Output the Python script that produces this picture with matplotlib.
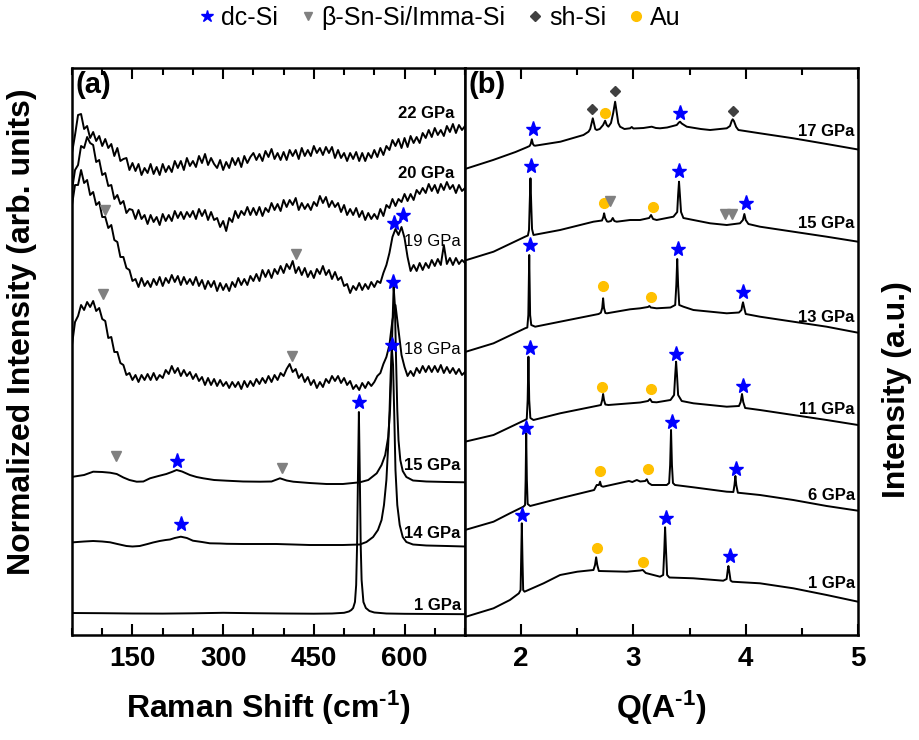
import numpy as np
import matplotlib.pyplot as plt
from matplotlib.lines import Line2D
from matplotlib.ticker import MultipleLocator

plt.rcParams['font.family'] = ['Liberation Sans', 'DejaVu Sans']
plt.rcParams['mathtext.fontset'] = 'custom'
plt.rcParams['mathtext.rm'] = 'Liberation Sans:bold'
plt.rcParams['mathtext.it'] = 'Liberation Sans:bold'
plt.rcParams['mathtext.bf'] = 'Liberation Sans:bold'

# ---------------- (a) Raman, stacked spectra ----------------
# sampling positions of the noisy spectra (cm-1)
raman_grid = np.arange(50, 701, 5)

raman_22 = [4.82, 5.00, 5.20, 5.21, 5.06, 5.09, 4.97, 5.03, 4.94, 4.99,
            4.89, 4.96, 4.87, 4.91, 4.79, 4.87, 4.74, 4.76, 4.77, 4.65,
            4.72, 4.64, 4.71, 4.60, 4.67, 4.62, 4.71, 4.61, 4.68, 4.60,
            4.71, 4.63, 4.69, 4.63, 4.74, 4.67, 4.74, 4.65, 4.77, 4.69,
            4.74, 4.68, 4.79, 4.72, 4.81, 4.70, 4.77, 4.71, 4.67, 4.75,
            4.65, 4.73, 4.67, 4.77, 4.70, 4.77, 4.68, 4.79, 4.72, 4.78,
            4.82, 4.75, 4.81, 4.74, 4.84, 4.78, 4.86, 4.76, 4.82, 4.75,
            4.83, 4.75, 4.85, 4.79, 4.85, 4.76, 4.87, 4.79, 4.85, 4.79,
            4.89, 4.82, 4.87, 4.80, 4.88, 4.82, 4.88, 4.77, 4.85, 4.77,
            4.82, 4.74, 4.82, 4.76, 4.83, 4.74, 4.82, 4.74, 4.82, 4.77,
            4.85, 4.78, 4.87, 4.80, 4.89, 4.85, 4.95, 4.89, 4.96, 4.87,
            4.97, 4.88, 4.99, 4.92, 4.98, 4.92, 5.02, 4.97, 5.05, 4.98,
            5.07, 5.00, 5.05, 4.99, 5.09, 5.03, 5.11, 5.02, 5.10, 5.05,
            5.09]

raman_20 = [4.45, 4.65, 4.70, 4.89, 4.87, 4.98, 4.92, 4.90, 4.73, 4.75,
            4.60, 4.62, 4.49, 4.50, 4.36, 4.40, 4.31, 4.34, 4.22, 4.26,
            4.25, 4.16, 4.25, 4.16, 4.20, 4.11, 4.20, 4.13, 4.18, 4.10,
            4.21, 4.14, 4.20, 4.14, 4.24, 4.17, 4.23, 4.16, 4.23, 4.18,
            4.24, 4.16, 4.26, 4.19, 4.25, 4.15, 4.23, 4.15, 4.17, 4.08,
            4.14, 4.04, 4.17, 4.13, 4.24, 4.17, 4.24, 4.20, 4.28, 4.20,
            4.27, 4.20, 4.28, 4.19, 4.27, 4.23, 4.32, 4.25, 4.31, 4.24,
            4.35, 4.28, 4.35, 4.30, 4.37, 4.25, 4.32, 4.26, 4.31, 4.25,
            4.33, 4.29, 4.39, 4.32, 4.38, 4.28, 4.34, 4.28, 4.32, 4.23,
            4.30, 4.20, 4.26, 4.20, 4.27, 4.18, 4.24, 4.15, 4.22, 4.16,
            4.21, 4.16, 4.26, 4.19, 4.30, 4.27, 4.36, 4.29, 4.36, 4.33,
            4.41, 4.34, 4.41, 4.35, 4.45, 4.41, 4.47, 4.42, 4.51, 4.44,
            4.50, 4.42, 4.51, 4.45, 4.53, 4.46, 4.50, 4.42, 4.50, 4.44,
            4.47]

raman_19 = [4.30, 4.50, 4.50, 4.65, 4.52, 4.55, 4.40, 4.43, 4.30, 4.33,
            4.18, 4.18, 4.07, 4.10, 3.95, 3.93, 3.78, 3.78, 3.67, 3.65,
            3.54, 3.56, 3.48, 3.57, 3.49, 3.54, 3.48, 3.56, 3.50, 3.58,
            3.49, 3.57, 3.52, 3.60, 3.53, 3.59, 3.50, 3.58, 3.51, 3.56,
            3.50, 3.58, 3.49, 3.55, 3.46, 3.54, 3.48, 3.54, 3.44, 3.52,
            3.45, 3.51, 3.44, 3.53, 3.48, 3.57, 3.50, 3.56, 3.50, 3.59,
            3.54, 3.61, 3.54, 3.65, 3.58, 3.65, 3.57, 3.66, 3.61, 3.69,
            3.62, 3.71, 3.66, 3.74, 3.62, 3.68, 3.60, 3.67, 3.58, 3.64,
            3.57, 3.66, 3.61, 3.69, 3.60, 3.65, 3.56, 3.63, 3.55, 3.58,
            3.49, 3.51, 3.42, 3.49, 3.45, 3.52, 3.45, 3.51, 3.46, 3.53,
            3.48, 3.54, 3.52, 3.62, 3.70, 3.82, 3.98, 4.06, 4.00, 4.08,
            3.97, 3.78, 3.64, 3.70, 3.64, 3.72, 3.65, 3.72, 3.67, 3.75,
            3.69, 3.76, 3.70, 3.90, 3.71, 3.77, 3.70, 3.77, 3.71, 3.75,
            3.72]

raman_18 = [2.90, 3.13, 3.19, 3.30, 3.25, 3.33, 3.28, 3.34, 3.24, 3.27,
            3.16, 3.14, 2.97, 2.98, 2.83, 2.83, 2.72, 2.70, 2.60, 2.62,
            2.55, 2.60, 2.53, 2.60, 2.55, 2.61, 2.55, 2.62, 2.55, 2.60,
            2.57, 2.65, 2.61, 2.69, 2.62, 2.67, 2.59, 2.65, 2.59, 2.63,
            2.56, 2.61, 2.54, 2.58, 2.50, 2.57, 2.50, 2.56, 2.49, 2.55,
            2.49, 2.53, 2.47, 2.53, 2.48, 2.53, 2.46, 2.54, 2.48, 2.54,
            2.49, 2.56, 2.51, 2.57, 2.52, 2.59, 2.53, 2.60, 2.55, 2.62,
            2.59, 2.66, 2.71, 2.63, 2.66, 2.57, 2.61, 2.53, 2.58, 2.50,
            2.55, 2.47, 2.53, 2.48, 2.56, 2.52, 2.59, 2.54, 2.59, 2.52,
            2.57, 2.50, 2.54, 2.46, 2.50, 2.45, 2.52, 2.47, 2.53, 2.49,
            2.53, 2.59, 2.62, 2.71, 2.78, 2.90, 3.15, 3.30, 3.05, 2.80,
            2.68, 2.59, 2.64, 2.59, 2.67, 2.62, 2.69, 2.63, 2.69, 2.63,
            2.69, 2.63, 2.70, 2.62, 2.68, 2.62, 2.67, 2.61, 2.66, 2.60,
            2.63]

raman_15_x = [52, 70, 85, 100, 113, 124, 135, 145, 157, 168, 179, 193, 206, 215, 223,
              232, 245, 256, 267, 285, 306, 333, 361, 380, 394, 405, 416, 443, 471,
              498, 526, 540, 554, 562, 568, 573, 576, 578, 580, 582, 584, 586, 588,
              590, 593, 597, 603, 614, 636, 670, 700]
raman_15_y = [1.583, 1.60, 1.633, 1.63, 1.623, 1.61, 1.575, 1.55, 1.533, 1.535, 1.567,
              1.59, 1.61, 1.63, 1.65, 1.635, 1.60, 1.58, 1.567, 1.55, 1.543, 1.535,
              1.533, 1.535, 1.567, 1.545, 1.533, 1.52, 1.51, 1.51, 1.527, 1.55, 1.617,
              1.70, 1.80, 1.98, 2.25, 2.6, 3.1, 3.48, 3.3, 2.75, 2.25, 1.95, 1.75,
              1.64, 1.58, 1.545, 1.535, 1.53, 1.527]

raman_14_x = [52, 70, 85, 100, 113, 125, 140, 150, 162, 175, 184, 195, 205, 212, 220,
              230, 240, 250, 265, 278, 295, 306, 333, 361, 388, 416, 443, 471, 498,
              526, 537, 548, 556, 562, 566, 570, 573, 575, 577, 579, 581, 583, 585,
              588, 592, 597, 603, 614, 636, 670, 700]
raman_14_y = [0.927, 0.935, 0.94, 0.935, 0.927, 0.91, 0.89, 0.885, 0.89, 0.91, 0.925,
              0.94, 0.95, 0.955, 0.97, 0.983, 0.97, 0.943, 0.93, 0.917, 0.915, 0.912,
              0.91, 0.91, 0.91, 0.905, 0.90, 0.90, 0.90, 0.905, 0.93, 0.98, 1.05,
              1.15, 1.3, 1.55, 1.9, 2.2, 2.6, 2.87, 2.7, 2.2, 1.65, 1.3, 1.1, 0.98,
              0.93, 0.905, 0.895, 0.89, 0.885]

raman_1_x = [50, 100, 150, 200, 250, 300, 350, 400, 450, 480, 500, 508, 512, 515, 518,
             520, 521.5, 523, 524.5, 526, 527.5, 529, 532, 536, 542, 550, 570, 600,
             650, 700]
raman_1_y = [0.22, 0.218, 0.215, 0.214, 0.217, 0.222, 0.218, 0.215, 0.213, 0.215,
             0.222, 0.235, 0.25, 0.27, 0.33, 0.5, 0.9, 1.6, 2.23, 1.6, 0.9, 0.55,
             0.33, 0.27, 0.24, 0.225, 0.215, 0.212, 0.21, 0.208]

raman_star_x = [580, 581, 583, 598, 223, 230, 525]
raman_star_y = [2.90, 3.53, 4.12, 4.20, 1.74, 1.11, 2.33]
raman_tri_x = [105, 421, 101, 414, 123, 398]
raman_tri_y = [4.25, 3.81, 3.41, 2.79, 1.79, 1.67]

raman_labels = ['22 GPa', '20 GPa', '19 GPa', '18 GPa', '15 GPa', '14 GPa', '1 GPa']
raman_label_x = [683, 683, 693, 693, 693, 693, 693]
raman_label_y = [5.22, 4.62, 3.93, 2.85, 1.70, 1.02, 0.30]
raman_label_weight = ['bold', 'bold', 'normal', 'normal', 'bold', 'bold', 'bold']

# ---------------- (b) XRD, stacked patterns ----------------
xrd_17_q = [1.50, 1.75, 1.95, 2.05, 2.075, 2.085, 2.095, 2.105, 2.115, 2.125, 2.35,
            2.555, 2.60, 2.615, 2.628, 2.638, 2.648, 2.66, 2.673, 2.70, 2.73, 2.748,
            2.762, 2.777, 2.80, 2.82, 2.837, 2.852, 2.865, 2.881, 2.92, 2.97, 2.985,
            3.0, 3.089, 3.163, 3.20, 3.237, 3.30, 3.386, 3.405, 3.415, 3.43, 3.475,
            3.60, 3.683, 3.831, 3.86, 3.875, 3.884, 3.895, 3.915, 3.935, 4.127,
            4.424, 4.721, 5.0]
xrd_17_y = [4.66, 4.75, 4.83, 4.877, 4.89, 4.91, 4.957, 4.91, 4.895, 4.893, 4.933,
            5.00, 5.033, 5.06, 5.12, 5.167, 5.12, 5.06, 5.05, 5.06, 5.10, 5.143,
            5.10, 5.083, 5.12, 5.22, 5.333, 5.22, 5.12, 5.083, 5.06, 5.067, 5.08,
            5.065, 5.07, 5.083, 5.07, 5.067, 5.075, 5.10, 5.125, 5.133, 5.115, 5.083,
            5.06, 5.05, 5.067, 5.09, 5.14, 5.157, 5.14, 5.08, 5.05, 5.017,
            4.967, 4.91, 4.855]

xrd_15_q = [1.50, 1.754, 2.035, 2.06, 2.07, 2.076, 2.083, 2.09, 2.097, 2.11, 2.347,
            2.644, 2.72, 2.732, 2.739, 2.748, 2.765, 2.777, 2.80, 2.816, 2.83, 2.851,
            2.97, 3.059, 3.14, 3.157, 3.175, 3.207, 3.356, 3.39, 3.398, 3.406, 3.414,
            3.424, 3.445, 3.534, 3.683, 3.831, 3.949, 3.975, 3.988, 4.00, 4.024,
            4.127, 4.424, 4.721, 5.0]
xrd_15_y = [3.745, 3.833, 3.983, 3.995, 4.05, 4.30, 4.567, 4.30, 4.06, 4.00, 4.05,
            4.133, 4.145, 4.18, 4.217, 4.17, 4.135, 4.133, 4.14, 4.17, 4.14, 4.133,
            4.15, 4.15, 4.17, 4.20, 4.16, 4.15, 4.183, 4.23, 4.40, 4.533, 4.40,
            4.23, 4.17, 4.15, 4.117, 4.10, 4.117, 4.15, 4.21, 4.15, 4.11,
            4.083, 4.033, 3.983, 3.933]

xrd_13_q = [1.50, 1.754, 2.035, 2.055, 2.064, 2.072, 2.08, 2.09, 2.125, 2.347, 2.69,
            2.71, 2.722, 2.73, 2.738, 2.75, 2.764, 2.97, 3.06, 3.13, 3.142, 3.155,
            3.207, 3.33, 3.372, 3.382, 3.39, 3.398, 3.408, 3.445, 3.534, 3.831, 3.94,
            3.962, 3.970, 3.976, 3.985, 4.0, 4.127, 4.424, 4.721, 5.0]
xrd_13_y = [2.83, 2.917, 3.067, 3.075, 3.20, 3.80, 3.20, 3.10, 3.083, 3.133, 3.21,
            3.223, 3.27, 3.367, 3.27, 3.22, 3.217, 3.257, 3.267, 3.28, 3.29, 3.275,
            3.267, 3.275, 3.30, 3.50, 3.76, 3.50, 3.30, 3.283, 3.25, 3.217, 3.225,
            3.25, 3.30, 3.327, 3.28, 3.21, 3.183, 3.133, 3.083, 3.023]

xrd_11_q = [1.50, 1.754, 2.035, 2.05, 2.058, 2.065, 2.072, 2.082, 2.11, 2.347, 2.69,
            2.71, 2.722, 2.73, 2.738, 2.75, 2.777, 2.97, 3.06, 3.13, 3.148, 3.165,
            3.207, 3.33, 3.362, 3.372, 3.38, 3.388, 3.398, 3.43, 3.534, 3.831, 3.94,
            3.955, 3.967, 3.978, 3.995, 4.127, 4.424, 4.721, 5.0]
xrd_11_y = [1.933, 2.0, 2.15, 2.16, 2.35, 2.783, 2.35, 2.17, 2.15, 2.217, 2.295,
            2.30, 2.35, 2.41, 2.35, 2.305, 2.30, 2.317, 2.325, 2.34, 2.36, 2.33,
            2.327, 2.35, 2.40, 2.60, 2.733, 2.60, 2.40, 2.34, 2.317, 2.283, 2.29,
            2.33, 2.41, 2.33, 2.27, 2.25, 2.20, 2.15, 2.10]

xrd_6_q = [1.50, 1.754, 1.90, 2.02, 2.035, 2.04, 2.045, 2.051, 2.058, 2.08, 2.347,
           2.65, 2.673, 2.693, 2.703, 2.713, 2.73, 2.90, 2.96, 2.99, 3.03, 3.06,
           3.105, 3.119, 3.135, 3.163, 3.297, 3.318, 3.327, 3.335, 3.343, 3.352,
           3.37, 3.534, 3.831, 3.89, 3.90, 3.908, 3.916, 3.93, 4.127, 4.424, 4.721,
           5.0]
xrd_6_y = [1.05, 1.133, 1.217, 1.283, 1.30, 1.55, 2.017, 1.55, 1.31, 1.29, 1.367,
           1.45, 1.50, 1.50, 1.533, 1.49, 1.483, 1.525, 1.54, 1.53, 1.55, 1.535,
           1.54, 1.557, 1.52, 1.50, 1.50, 1.52, 1.70, 2.05, 1.70, 1.52,
           1.50, 1.477, 1.433, 1.43, 1.50, 1.59, 1.50, 1.423, 1.40, 1.35, 1.29,
           1.243]

xrd_1_q = [1.50, 1.754, 1.90, 1.98, 1.995, 2.0, 2.006, 2.012, 2.018, 2.03, 2.20,
           2.347, 2.50, 2.644, 2.658, 2.668, 2.678, 2.692, 2.94, 3.06, 3.083, 3.11,
           3.237, 3.265, 3.275, 3.282, 3.29, 3.30, 3.32, 3.534, 3.80, 3.83, 3.84,
           3.846, 3.853, 3.865, 3.88, 4.127, 4.424, 4.721, 5.0]
xrd_1_y = [0.18, 0.267, 0.35, 0.417, 0.45, 0.75, 1.117, 0.75, 0.45, 0.433, 0.517,
           0.60, 0.633, 0.65, 0.70, 0.777, 0.70, 0.64, 0.633, 0.645, 0.65, 0.62,
           0.583, 0.60, 0.85, 1.077, 0.85, 0.60, 0.575, 0.567, 0.543, 0.56, 0.65,
           0.69, 0.64, 0.545, 0.533, 0.517, 0.467, 0.40, 0.333]

xrd_star_q = [2.104, 3.415, 2.088, 3.406, 4.0, 2.078, 3.393, 3.979, 2.075, 3.38, 3.973,
              2.045, 3.341, 3.91, 2.012, 3.291, 3.861]
xrd_star_y = [5.057, 5.217, 4.69, 4.643, 4.323, 3.90, 3.863, 3.433, 2.867, 2.81, 2.49,
              2.067, 2.127, 1.657, 1.20, 1.173, 0.79]
xrd_au_q = [2.748, 2.739, 3.172, 2.733, 3.154, 2.724, 3.154, 2.703, 3.128, 2.673, 3.083]
xrd_au_y = [5.217, 4.323, 4.283, 3.49, 3.383, 2.483, 2.457, 1.643, 1.657, 0.867, 0.733]
xrd_sh_q = [2.635, 2.837, 3.884]
xrd_sh_y = [5.257, 5.443, 5.243]
xrd_tri_q = [2.792, 3.816, 3.875]
xrd_tri_y = [4.343, 4.21, 4.21]

xrd_labels = ['17 GPa', '15 GPa', '13 GPa', '11 GPa', '6 GPa', '1 GPa']
xrd_label_y = [5.03, 4.12, 3.18, 2.25, 1.40, 0.52]

star_col = '#0000ff'
tri_col = '#808080'
sh_col = '#404040'
au_col = '#ffc000'

fig = plt.figure(figsize=(9.19, 7.4), dpi=100)
ax_a = fig.add_axes([72/919, 105/740, 393/919, 567/740])
ax_b = fig.add_axes([465/919, 105/740, 393/919, 567/740])

lw = 1.4
ax_a.plot(raman_1_x, raman_1_y, color='black', lw=lw)
ax_a.plot(raman_14_x, raman_14_y, color='black', lw=lw)
ax_a.plot(raman_15_x, raman_15_y, color='black', lw=lw)
for spec in [raman_18, raman_19, raman_20, raman_22]:
    ax_a.plot(raman_grid, spec, color='black', lw=lw)

ax_a.plot(raman_star_x, raman_star_y, ls='none', marker='*', ms=11, color=star_col, zorder=5)
ax_a.plot(raman_tri_x, raman_tri_y, ls='none', marker='v', ms=7, color=tri_col, zorder=5)

for lab, lx, ly, wt in zip(raman_labels, raman_label_x, raman_label_y, raman_label_weight):
    ax_a.text(lx, ly, lab, ha='right', va='center', fontsize=12, fontweight=wt)

for q, y in [(xrd_17_q, xrd_17_y), (xrd_15_q, xrd_15_y), (xrd_13_q, xrd_13_y),
             (xrd_11_q, xrd_11_y), (xrd_6_q, xrd_6_y), (xrd_1_q, xrd_1_y)]:
    ax_b.plot(q, y, color='black', lw=lw)

ax_b.plot(xrd_star_q, xrd_star_y, ls='none', marker='*', ms=11, color=star_col, zorder=5)
ax_b.plot(xrd_au_q, xrd_au_y, ls='none', marker='o', ms=7, color=au_col, zorder=5)
ax_b.plot(xrd_sh_q, xrd_sh_y, ls='none', marker='D', ms=5, color=sh_col, zorder=5)
ax_b.plot(xrd_tri_q, xrd_tri_y, ls='none', marker='v', ms=7, color=tri_col, zorder=5)

for lab, ly in zip(xrd_labels, xrd_label_y):
    ax_b.text(4.97, ly, lab, ha='right', va='center', fontsize=12, fontweight='bold')

# axes styling
ax_a.set_xlim(50, 700)
ax_a.set_xticks([150, 300, 450, 600])
ax_a.xaxis.set_minor_locator(MultipleLocator(50))
ax_b.set_xlim(1.5, 5)
ax_b.set_xticks([2, 3, 4, 5])
ax_b.xaxis.set_minor_locator(MultipleLocator(0.5))

for ax in [ax_a, ax_b]:
    ax.set_ylim(0, 5.67)
    ax.set_yticks([])
    for sp in ax.spines.values():
        sp.set_linewidth(1.8)
    ax.tick_params(axis='x', which='both', direction='in', top=True, width=1.5,
                   labelsize=20, pad=8)
    ax.tick_params(axis='x', which='major', length=8)
    ax.tick_params(axis='x', which='minor', length=5)
    for t in ax.get_xticklabels():
        t.set_fontweight('bold')

ax_a.set_xlabel(r'Raman Shift (cm$^{\text{-1}}$)', fontsize=23, fontweight='bold', labelpad=12)
ax_b.set_xlabel(r'Q(A$^{\text{-1}}$)', fontsize=23, fontweight='bold', labelpad=12)

ax_a.text(0.008, 0.995, '(a)', transform=ax_a.transAxes, ha='left', va='top',
          fontsize=21, fontweight='bold')
ax_b.text(0.008, 0.995, '(b)', transform=ax_b.transAxes, ha='left', va='top',
          fontsize=21, fontweight='bold')

fig.text(22/919, 1 - 332/740, 'Normalized Intensity (arb. units)', rotation=90,
         ha='center', va='center', fontsize=23, fontweight='bold')
fig.text(897/919, 1 - 390/740, 'Intensity (a.u.)', rotation=90,
         ha='center', va='center', fontsize=23, fontweight='bold')

handles = [Line2D([], [], ls='none', marker='*', ms=9, color=star_col),
           Line2D([], [], ls='none', marker='v', ms=6, color=tri_col),
           Line2D([], [], ls='none', marker='D', ms=5, color=sh_col),
           Line2D([], [], ls='none', marker='o', ms=7, color=au_col)]
fig.legend(handles, ['dc-Si', 'β-Sn-Si/Imma-Si', 'sh-Si', 'Au'], loc='center',
           bbox_to_anchor=(440/919, 1 - 18/740), ncol=4, frameon=False, fontsize=18,
           handlelength=0.6, handletextpad=0.25, columnspacing=0.9, borderpad=0)

fig.savefig('out.png', dpi=100)
